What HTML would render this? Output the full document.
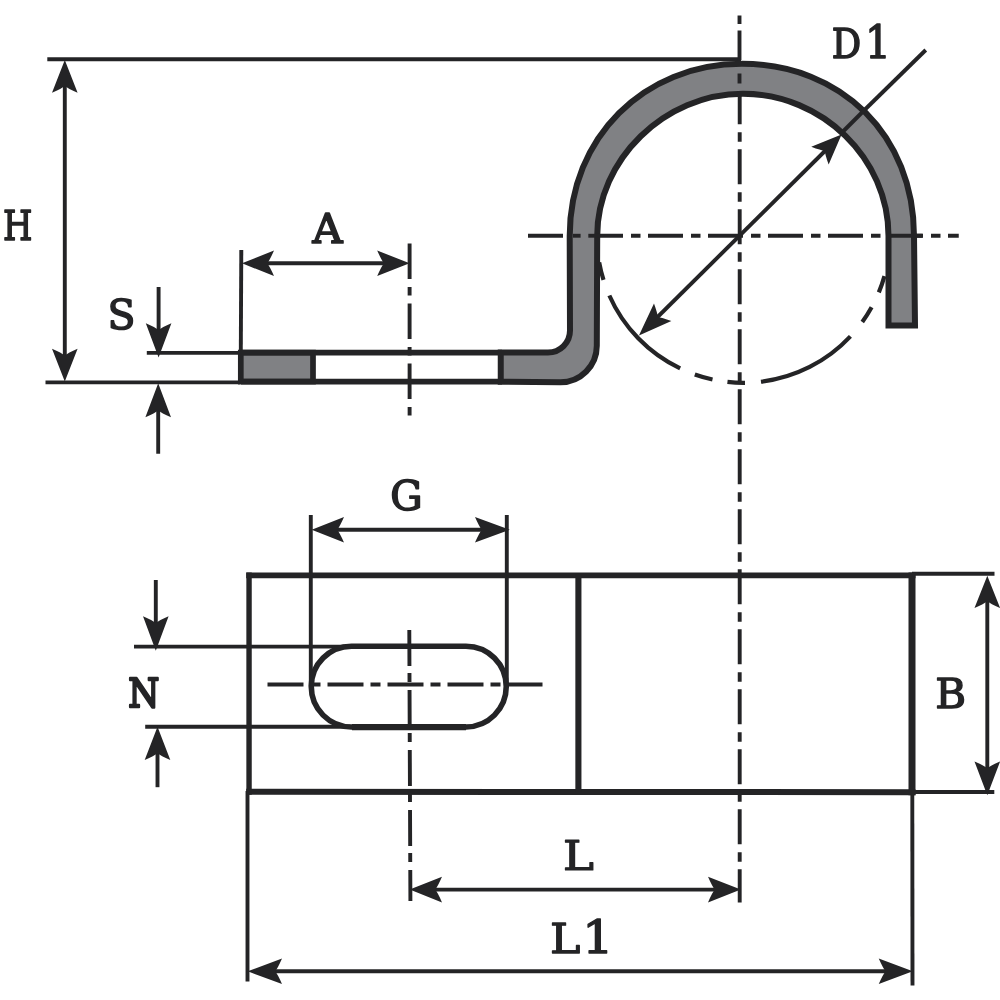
<!DOCTYPE html>
<html lang="en">
<head>
<meta charset="utf-8">
<title>Pipe clamp dimension drawing</title>
<style>
html,body{margin:0;padding:0;background:#fff;}
body{width:1000px;height:1000px;overflow:hidden;}
svg{display:block;}
.thin line,.thin path{stroke:#242426;fill:none;}
.ah{fill:#242426;}
.lbl text{font-family:"DejaVu Serif","Liberation Serif",serif;font-weight:normal;fill:#242426;stroke:#242426;stroke-linejoin:round;}
</style>
</head>
<body>
<svg width="1000" height="1000" viewBox="0 0 1000 1000">
<rect width="1000" height="1000" fill="#ffffff"/>
<g class="thin">
<line x1="47.3" y1="59.2" x2="741" y2="59.2" stroke-width="3.9" />
<line x1="45.5" y1="382.4" x2="240" y2="382.4" stroke-width="3.9" />
<line x1="64.8" y1="70" x2="64.8" y2="372" stroke-width="3.9" />
<line x1="146.8" y1="352.9" x2="240" y2="352.9" stroke-width="3.9" />
<line x1="158.6" y1="287" x2="158.6" y2="335" stroke-width="3.9" />
<line x1="158.2" y1="405" x2="158.2" y2="453.75" stroke-width="3.9" />
<line x1="241.3" y1="250" x2="240.8" y2="352" stroke-width="3.9" />
<line x1="250" y1="263.3" x2="400" y2="263.3" stroke-width="3.9" />
<line x1="912" y1="573.7" x2="994.5" y2="573.7" stroke-width="3.9" />
<line x1="912" y1="792" x2="994.3" y2="792" stroke-width="3.9" />
<line x1="987.3" y1="585" x2="987.3" y2="780" stroke-width="3.9" />
<line x1="247.5" y1="791" x2="247.5" y2="981.5" stroke-width="3.9" />
<line x1="912.3" y1="791" x2="912.5" y2="985.5" stroke-width="3.9" />
<line x1="255" y1="971.3" x2="905" y2="971.3" stroke-width="3.9" />
<line x1="420" y1="889.6" x2="730" y2="889.6" stroke-width="3.9" />
<line x1="310.8" y1="515" x2="310.8" y2="686" stroke-width="3.9" />
<line x1="506.8" y1="515" x2="506.8" y2="686" stroke-width="3.9" />
<line x1="320" y1="529.8" x2="498" y2="529.8" stroke-width="3.9" />
<line x1="134" y1="646.6" x2="350" y2="646.6" stroke-width="3.9" />
<line x1="145.2" y1="726.7" x2="350" y2="726.7" stroke-width="3.9" />
<line x1="155.8" y1="580" x2="155.8" y2="630" stroke-width="3.9" />
<line x1="157.5" y1="745" x2="157.5" y2="787.2" stroke-width="3.9" />
<line x1="925.75" y1="50" x2="865" y2="109.5" stroke-width="3.9" />
<line x1="833" y1="143" x2="647" y2="327.5" stroke-width="3.9" />
</g>
<g class="thin">
<line x1="409.6" y1="243.5" x2="409.6" y2="416.5" stroke-width="3.9" stroke-dasharray="35.5 8 8.5 8"/>
<line x1="739.5" y1="15.5" x2="739.5" y2="24" stroke-width="3.9" />
<line x1="739.5" y1="30.5" x2="739.5" y2="60" stroke-width="3.9" />
<line x1="739.7" y1="89.25" x2="739.7" y2="902.5" stroke-width="3.9" stroke-dasharray="35 8 9.5 7.5"/>
<line x1="528" y1="235.75" x2="958.75" y2="235.75" stroke-width="3.9" stroke-dasharray="35 8 9.5 7.5"/>
<line x1="267.5" y1="684.5" x2="542.5" y2="684.5" stroke-width="3.9" stroke-dasharray="36 7 10 7"/>
<line x1="409.3" y1="630" x2="410.4" y2="901" stroke-width="3.9" stroke-dasharray="36 7 9 8"/>
</g>
<g>
<path class="ah" transform="translate(64.8 60.8) rotate(-90)" d="M0.8,0 L-32,-12.8 Q-27.7,-3 -25.2,0 Q-27.7,3 -32,12.8 Z"/>
<path class="ah" transform="translate(64.8 380.8) rotate(90)" d="M0.8,0 L-32,-12.8 Q-27.7,-3 -25.2,0 Q-27.7,3 -32,12.8 Z"/>
<path class="ah" transform="translate(158.6 356.8) rotate(90)" d="M0.8,0 L-33.6,-12.8 Q-29.3,-3 -26.8,0 Q-29.3,3 -33.6,12.8 Z"/>
<path class="ah" transform="translate(158.2 384) rotate(-90)" d="M0.8,0 L-33.2,-12.8 Q-28.9,-3 -26.4,0 Q-28.9,3 -33.2,12.8 Z"/>
<path class="ah" transform="translate(242.8 263.3) rotate(180)" d="M0.8,0 L-31.2,-12.8 Q-26.9,-3 -24.4,0 Q-26.9,3 -31.2,12.8 Z"/>
<path class="ah" transform="translate(408.8 263.3) rotate(0)" d="M0.8,0 L-31.6,-12.8 Q-27.3,-3 -24.8,0 Q-27.3,3 -31.6,12.8 Z"/>
<path class="ah" transform="translate(312.5 529.8) rotate(180)" d="M0.8,0 L-31.5,-12.8 Q-27.2,-3 -24.7,0 Q-27.2,3 -31.5,12.8 Z"/>
<path class="ah" transform="translate(509 529.8) rotate(0)" d="M0.8,0 L-34,-12.8 Q-29.7,-3 -27.2,0 Q-29.7,3 -34,12.8 Z"/>
<path class="ah" transform="translate(155.8 650) rotate(90)" d="M0.8,0 L-33.8,-12.8 Q-29.5,-3 -27.0,0 Q-29.5,3 -33.8,12.8 Z"/>
<path class="ah" transform="translate(157.5 727.5) rotate(-90)" d="M0.8,0 L-32.5,-12.8 Q-28.2,-3 -25.7,0 Q-28.2,3 -32.5,12.8 Z"/>
<path class="ah" transform="translate(987.3 576.5) rotate(-90)" d="M0.8,0 L-31.5,-12.8 Q-27.2,-3 -24.7,0 Q-27.2,3 -31.5,12.8 Z"/>
<path class="ah" transform="translate(987.3 794.5) rotate(90)" d="M0.8,0 L-33,-12.8 Q-28.7,-3 -26.2,0 Q-28.7,3 -33,12.8 Z"/>
<path class="ah" transform="translate(410.5 889.6) rotate(180)" d="M0.8,0 L-31.5,-12.8 Q-27.2,-3 -24.7,0 Q-27.2,3 -31.5,12.8 Z"/>
<path class="ah" transform="translate(740 889.6) rotate(0)" d="M0.8,0 L-32,-12.8 Q-27.7,-3 -25.2,0 Q-27.7,3 -32,12.8 Z"/>
<path class="ah" transform="translate(248.5 971.3) rotate(180)" d="M0.8,0 L-33.5,-12.8 Q-29.2,-3 -26.7,0 Q-29.2,3 -33.5,12.8 Z"/>
<path class="ah" transform="translate(912 971.3) rotate(0)" d="M0.8,0 L-33.25,-12.8 Q-28.9,-3 -26.4,0 Q-28.9,3 -33.25,12.8 Z"/>
<path class="ah" transform="translate(841 135) rotate(-44.5)" d="M0.8,0 L-29.5,-12.4 Q-25.2,-3 -22.7,0 Q-25.2,3 -29.5,12.4 Z"/>
<path class="ah" transform="translate(639.5 335) rotate(135.5)" d="M0.8,0 L-32.5,-12.4 Q-28.2,-3 -25.7,0 Q-28.2,3 -32.5,12.4 Z"/>
</g>
<g class="thin">
<path d="M599.16,262.42 A146.6,146.6 0 0 0 603.49,279.97" stroke-width="4.2"/>
<path d="M609.34,295.52 A146.6,146.6 0 0 0 680.14,368.45" stroke-width="4.2"/>
<path d="M694.82,374.52 A146.6,146.6 0 0 0 712.50,379.51" stroke-width="4.2"/>
<path d="M727.45,381.93 A146.6,146.6 0 0 0 745.00,382.79" stroke-width="4.2"/>
<path d="M760.97,381.74 A146.6,146.6 0 0 0 850.42,336.39" stroke-width="4.2"/>
<path d="M862.28,321.98 A146.6,146.6 0 0 0 871.61,307.29" stroke-width="4.2"/>
<path d="M878.82,292.34 A146.6,146.6 0 0 0 884.46,276.13" stroke-width="4.2"/>
</g>
<rect x="240.8" y="352.6" width="72.2" height="29" fill="#808184" stroke="#242426" stroke-width="5.7"/>
<line x1="241" y1="352.6" x2="502" y2="352.6" stroke-width="5.7" stroke="#242426"/>
<line x1="241" y1="381.6" x2="502" y2="381.6" stroke-width="5.7" stroke="#242426"/>
<path d="M500.75,352.6 L548,352.6 A22,22 0 0 0 570,330.6 L569.7,236.0 C569.7,137.85 643.72,63.8 741.85,63.8 C841.70,63.8 914.0,136.12 914.0,236.0 L915.0,325.5 L888.5,325.5 L888.5,236.0 C888.5,158.50 822.23,93.8 742.85,93.8 C664.64,93.8 597.2,159.64 597.2,236.0 L596.8000000000001,345.7 A36.5,36.5 0 0 1 560.3000000000001,382.2 L500.75,381.8 Z" fill="#808184" stroke="#242426" stroke-width="6.0" stroke-linejoin="miter"/>
<g class="thin">
<line x1="739.5" y1="73.5" x2="739.5" y2="83.5" stroke-width="3.9" />
<line x1="573" y1="235.75" x2="580.6" y2="235.75" stroke-width="3.9" />
<line x1="588.3" y1="235.75" x2="600" y2="235.75" stroke-width="3.9" />
<line x1="886" y1="235.75" x2="922.5" y2="235.75" stroke-width="3.9" />
<line x1="865" y1="109.5" x2="841" y2="133.5" stroke-width="3.9" />
</g>
<line x1="246.2" y1="575.4" x2="915.5" y2="575.4" stroke-width="5.8" stroke="#242426"/>
<line x1="246.2" y1="791.7" x2="915.5" y2="792.2" stroke-width="6.0" stroke="#242426"/>
<line x1="249.05" y1="572.5" x2="249.05" y2="794.7" stroke-width="5.4" stroke="#242426"/>
<line x1="912" y1="572.5" x2="912" y2="795.2" stroke-width="7.0" stroke="#242426"/>
<line x1="578.4" y1="575" x2="578.4" y2="792" stroke-width="6.1" stroke="#242426"/>
<rect x="311.25" y="646.25" width="195" height="80.7" rx="40.3" ry="40.35" fill="none" stroke="#242426" stroke-width="5.6"/>
<line x1="352" y1="727.15" x2="466" y2="727.15" stroke-width="6.3" stroke="#242426"/>
<g class="lbl" opacity="0.999">
<text transform="matrix(0.3377 0 0 0.4128 2.92 240.36)" font-size="100" stroke-width="3.6">H</text>
<text transform="matrix(0.4083 0 0 0.4148 107.49 328.66)" font-size="100" stroke-width="3.6">S</text>
<text transform="matrix(0.4154 0 0 0.4012 312.52 243.16)" font-size="100" stroke-width="4.2">A</text>
<text transform="matrix(0.4052 0 0 0.4094 390.22 510.03)" font-size="100" stroke-width="3.8">G</text>
<text transform="matrix(0.3554 0 0 0.3932 128.30 706.51)" font-size="100" stroke-width="6.0">N</text>
<text transform="matrix(0.4202 0 0 0.4054 935.19 707.61)" font-size="100" stroke-width="3.4">B</text>
<text transform="matrix(0.4649 0 0 0.4121 563.02 869.88)" font-size="100" stroke-width="3.0">L</text>
<text transform="matrix(0.3670 0 0 0.4091 831.78 58.42)" font-size="100" stroke-width="3.8">D<tspan x="90.8" font-size="111.0">1</tspan></text>
<text transform="matrix(0.4569 0 0 0.4186 550.04 952.87)" font-size="100" stroke-width="3.0">L<tspan x="70.1" font-size="109.1">1</tspan></text>
</g>
</svg>
</body>
</html>
